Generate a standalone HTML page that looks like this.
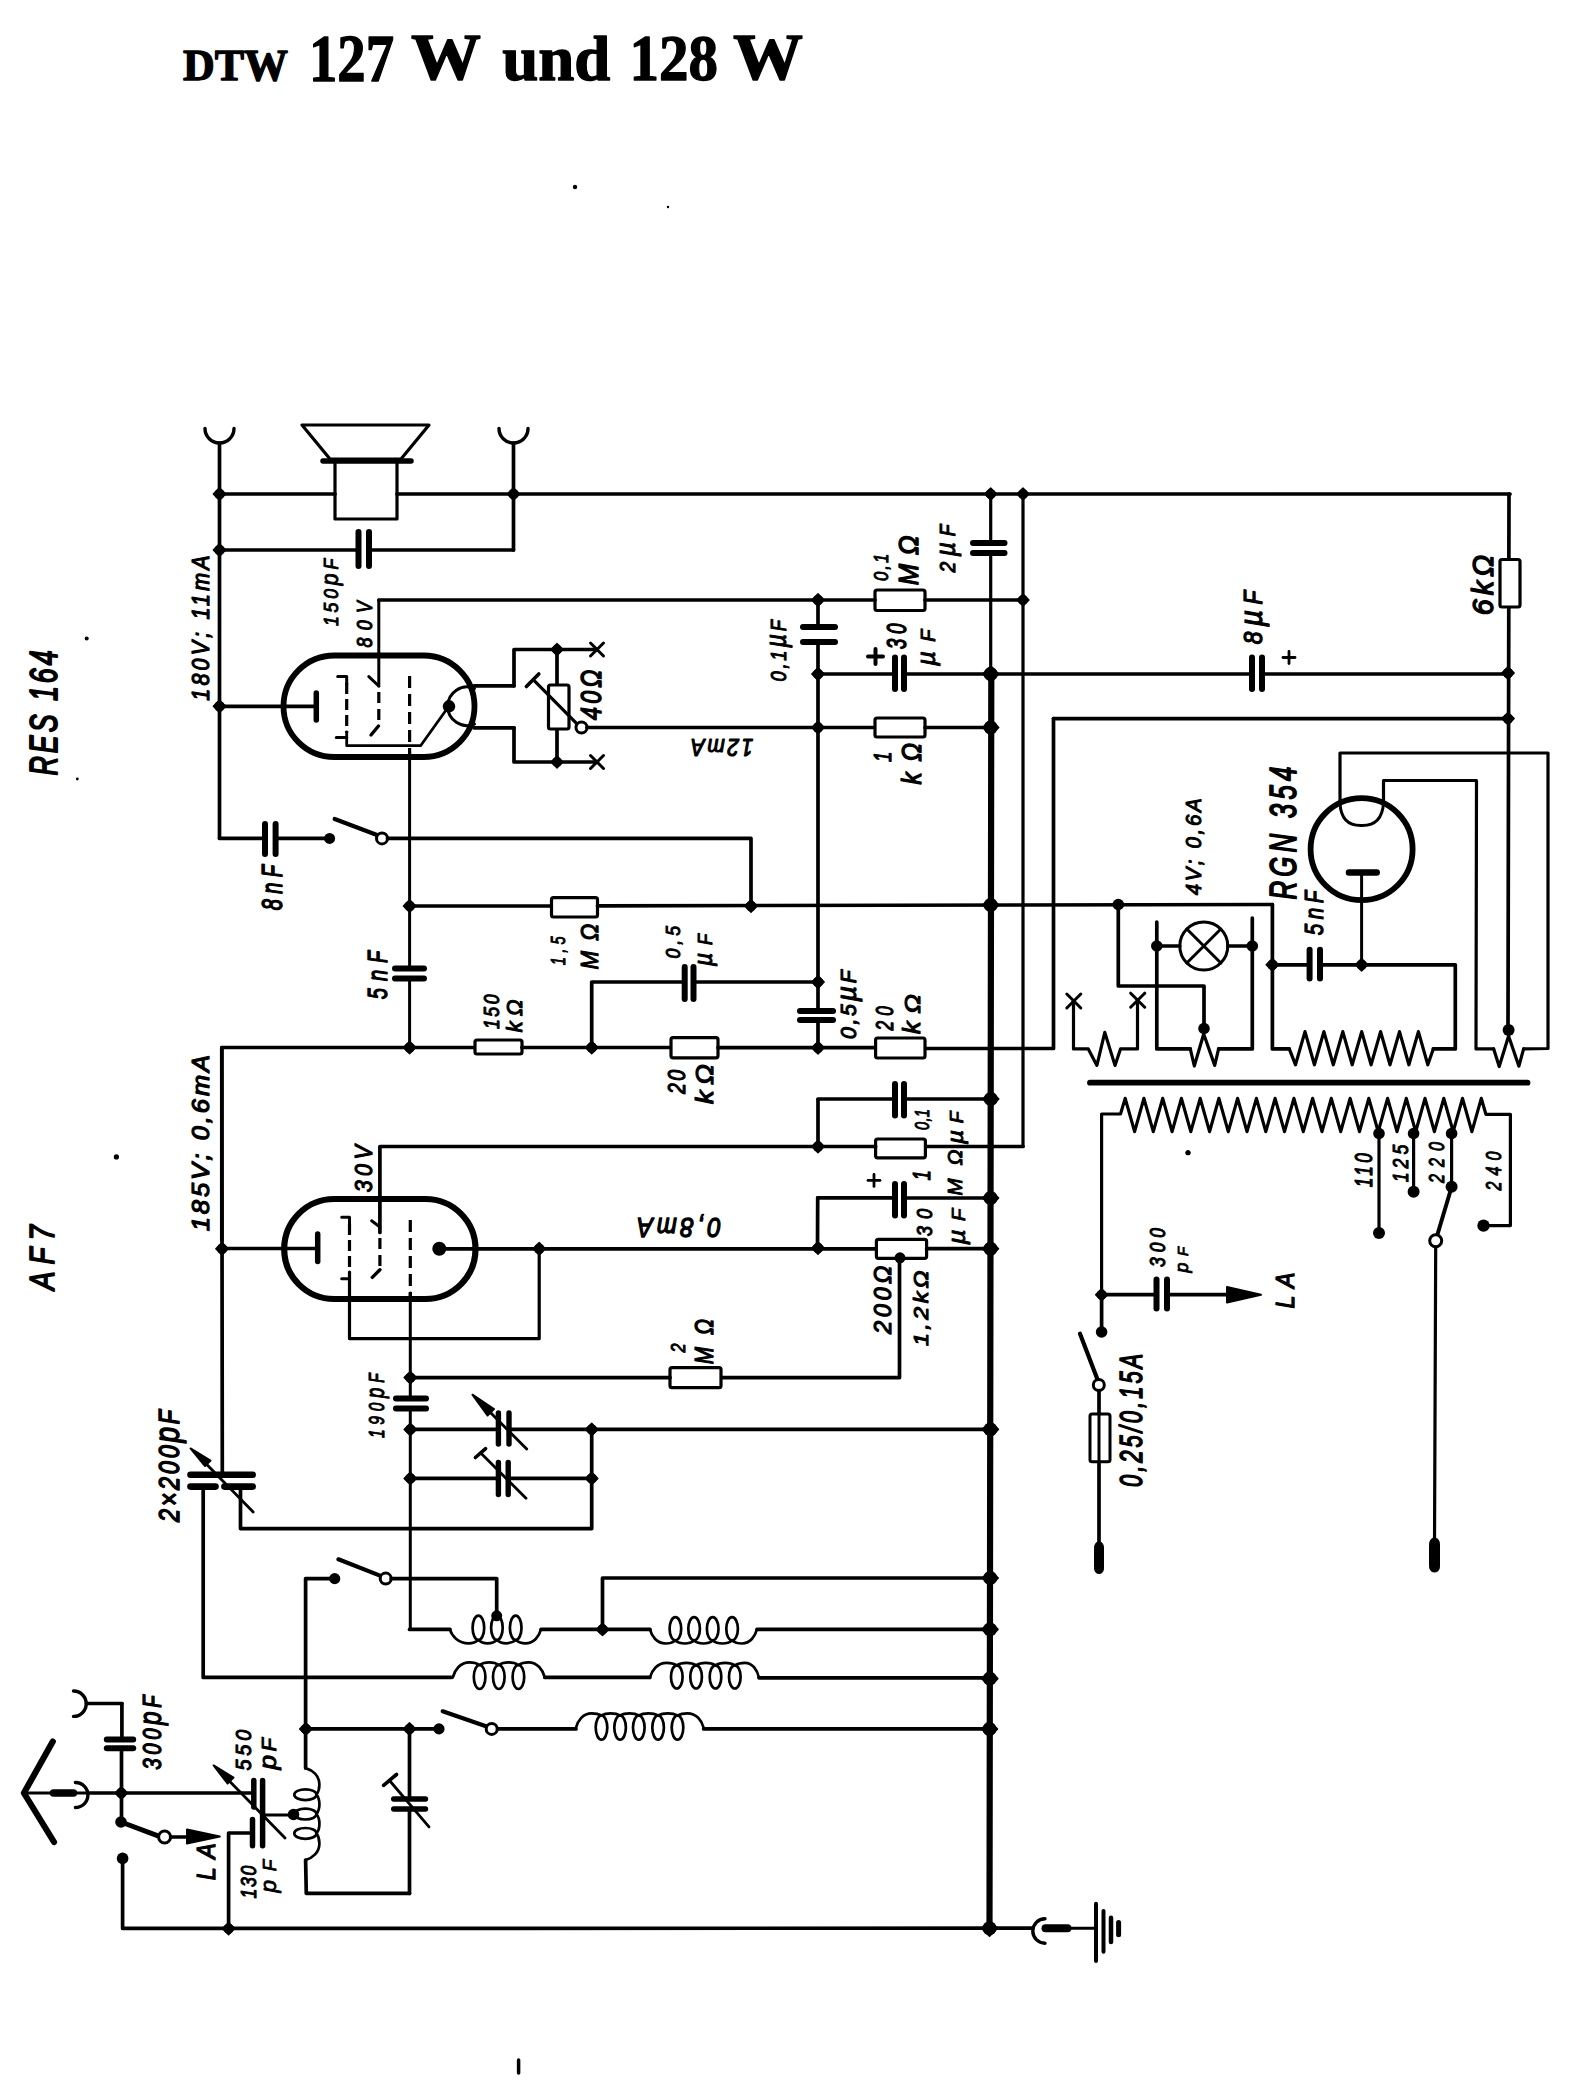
<!DOCTYPE html>
<html><head><meta charset="utf-8"><style>
html,body{margin:0;padding:0;background:#fff;overflow:hidden;width:1592px;height:2080px;}
svg{display:block;}
</style></head><body>
<svg width="1592" height="2080" viewBox="0 0 1592 2080" stroke="#000" stroke-linecap="round" stroke-linejoin="round" fill="none">
<rect x="0" y="0" width="1592" height="2080" fill="#fff" stroke="none"/>
<path d="M205,428.5 A14.5,14.5 0 0 0 234,428.5" stroke-width="3.4"/>
<path d="M499,428.5 A14.5,14.5 0 0 0 528,428.5" stroke-width="3.4"/>
<path d="M219.5,443 L219.5,838" stroke-width="3.7"/>
<path d="M513.5,443 L513.5,550" stroke-width="3.7"/>
<path d="M302,425 L429,425 L401,459 L330,459 Z" stroke-width="3.2"/>
<path d="M323,461 L411,461" stroke-width="5.5"/>
<path d="M335,461 L335,519 L397,519 L397,461" stroke-width="3.2"/>
<path d="M219.5,494 L335,494" stroke-width="3.7"/>
<path d="M397,494 L1510,494" stroke-width="3.7"/>
<path d="M213.3,494 L219.5,487.8 L225.7,494 L219.5,500.2 Z" fill="#000" stroke-width="1.4"/>
<circle cx="219.5" cy="494" r="5.2" fill="#000" stroke="none"/>
<path d="M507.3,494 L513.5,487.8 L519.7,494 L513.5,500.2 Z" fill="#000" stroke-width="1.4"/>
<circle cx="513.5" cy="494" r="5.2" fill="#000" stroke="none"/>
<path d="M984.7,494 L990.7,488 L996.7,494 L990.7,500 Z" fill="#000" stroke-width="1.4"/>
<circle cx="990.7" cy="494" r="5" fill="#000" stroke="none"/>
<path d="M1017,494 L1023,488 L1029,494 L1023,500 Z" fill="#000" stroke-width="1.4"/>
<circle cx="1023" cy="494" r="5" fill="#000" stroke="none"/>
<path d="M219.5,550 L358.5,550" stroke-width="3.7"/>
<path d="M369,550 L513.5,550" stroke-width="3.7"/>
<path d="M358.5,532 L358.5,566" stroke-width="6"/>
<path d="M369,532 L369,566" stroke-width="6"/>
<path d="M213.3,550 L219.5,543.8 L225.7,550 L219.5,556.2 Z" fill="#000" stroke-width="1.4"/>
<circle cx="219.5" cy="550" r="5.2" fill="#000" stroke="none"/>
<path d="M474.5,688.5 A19.3,19.3 0 1 0 474.5,724.1" stroke-width="3"/>
<path d="M213.3,706.3 L219.5,700.1 L225.7,706.3 L219.5,712.5 Z" fill="#000" stroke-width="1.4"/>
<circle cx="219.5" cy="706.3" r="5.2" fill="#000" stroke="none"/>
<rect x="283.5" y="655.5" width="191" height="101.5" rx="50.8" ry="50.8" fill="none" stroke-width="5.8"/>
<path d="M219.5,706.3 L316,706.3" stroke-width="3.7"/>
<path d="M316.3,693 L316.3,720" stroke-width="5.5"/>
<path d="M346.7,683 L346.7,733" stroke-width="3.2" stroke-linecap="butt" stroke-dasharray="11,5"/>
<path d="M337.7,676.6 L346.7,676.6 L346.7,684" stroke-width="3"/>
<path d="M336.3,737.4 L346.7,737.4" stroke-width="3"/>
<path d="M346.7,732 L346.7,745.7 L420.6,745.7 L449,706" stroke-width="2.8"/>
<circle cx="449" cy="706.3" r="6.2" fill="#000" stroke="none"/>
<path d="M378.8,600 L378.8,686" stroke-width="3"/>
<path d="M368.8,676.6 L378.8,686" stroke-width="3"/>
<path d="M378.8,692 L378.8,725" stroke-width="3.2" stroke-linecap="butt" stroke-dasharray="11,6"/>
<path d="M378.5,726 L371,735" stroke-width="3.4"/>
<path d="M409.6,676 L409.6,755" stroke-width="3.2" stroke-linecap="butt" stroke-dasharray="12,6"/>
<path d="M409.6,752 L409.6,968.6" stroke-width="3"/>
<path d="M409.6,978.6 L409.6,1047" stroke-width="3"/>
<path d="M378.8,600 L818,600" stroke-width="3.7"/>
<path d="M811.8,600 L818,593.8 L824.2,600 L818,606.2 Z" fill="#000" stroke-width="1.4"/>
<circle cx="818" cy="600" r="5.2" fill="#000" stroke="none"/>
<path d="M818,600 L818,627" stroke-width="3.7"/>
<path d="M818,642 L818,1011" stroke-width="3.7"/>
<path d="M818,1020 L818,1047.7" stroke-width="3.7"/>
<path d="M803,627 L835,627" stroke-width="6"/>
<path d="M803,642 L835,642" stroke-width="6"/>
<rect x="875" y="590" width="50" height="20.5" rx="2" fill="#fff" stroke-width="3.2"/>
<path d="M818,600 L875,600" stroke-width="3.7"/>
<path d="M925,600 L1023,600" stroke-width="3.7"/>
<path d="M1017,600 L1023,594 L1029,600 L1023,606 Z" fill="#000" stroke-width="1.4"/>
<circle cx="1023" cy="600" r="5" fill="#000" stroke="none"/>
<path d="M474,685.8 L514,685.8" stroke-width="3.7"/>
<path d="M474,727.8 L514,727.8" stroke-width="3.7"/>
<path d="M514,685.8 L514,649.5 L597,649.5" stroke-width="3.7"/>
<path d="M514,727.8 L514,762 L597,762" stroke-width="3.7"/>
<path d="M590.5,643 L603.5,656" stroke-width="3"/>
<path d="M590.5,656 L603.5,643" stroke-width="3"/>
<path d="M590.5,755.5 L603.5,768.5" stroke-width="3"/>
<path d="M590.5,768.5 L603.5,755.5" stroke-width="3"/>
<path d="M551,649.5 L557,643.5 L563,649.5 L557,655.5 Z" fill="#000" stroke-width="1.4"/>
<circle cx="557" cy="649.5" r="5" fill="#000" stroke="none"/>
<path d="M551,762 L557,756 L563,762 L557,768 Z" fill="#000" stroke-width="1.4"/>
<circle cx="557" cy="762" r="5" fill="#000" stroke="none"/>
<path d="M557,649.5 L557,762" stroke-width="3.7"/>
<rect x="548.5" y="685" width="20.5" height="44" rx="2" fill="#fff" stroke-width="3.2"/>
<path d="M534.7,681.2 L577,723.8" stroke-width="3.2"/>
<path d="M526.4,686.5 L538.8,674" stroke-width="3.6"/>
<circle cx="581.5" cy="727.5" r="5.5" fill="#fff" stroke-width="3"/>
<path d="M587,727.5 L875,727.5" stroke-width="3.7"/>
<rect x="875" y="718" width="50" height="19" rx="2" fill="#fff" stroke-width="3.2"/>
<path d="M925,727.5 L990.7,727.5" stroke-width="3.7"/>
<path d="M811.8,727.5 L818,721.3 L824.2,727.5 L818,733.7 Z" fill="#000" stroke-width="1.4"/>
<circle cx="818" cy="727.5" r="5.2" fill="#000" stroke="none"/>
<path d="M982.7,727.5 L990.7,719.5 L998.7,727.5 L990.7,735.5 Z" fill="#000" stroke-width="1.6"/>
<circle cx="990.7" cy="727.5" r="7" fill="#000" stroke="none"/>
<path d="M818,674 L895,674" stroke-width="3.7"/>
<path d="M895,657.5 L895,689" stroke-width="6"/>
<path d="M904,657.5 L904,689" stroke-width="6"/>
<path d="M904,674 L1252,674" stroke-width="3.7"/>
<path d="M1252,657.5 L1252,689" stroke-width="6"/>
<path d="M1262,657.5 L1262,689" stroke-width="6"/>
<path d="M1262,674 L1508,674" stroke-width="3.7"/>
<path d="M811.8,674 L818,667.8 L824.2,674 L818,680.2 Z" fill="#000" stroke-width="1.4"/>
<circle cx="818" cy="674" r="5.2" fill="#000" stroke="none"/>
<path d="M982.7,674 L990.7,666 L998.7,674 L990.7,682 Z" fill="#000" stroke-width="1.6"/>
<circle cx="990.7" cy="674" r="7" fill="#000" stroke="none"/>
<path d="M1501.8,673 L1508,666.8 L1514.2,673 L1508,679.2 Z" fill="#000" stroke-width="1.4"/>
<circle cx="1508" cy="673" r="5.2" fill="#000" stroke="none"/>
<path d="M868,656.4 L883,656.4" stroke-width="4"/>
<path d="M875.5,649 L875.5,664" stroke-width="4"/>
<path d="M1283,657.5 L1295,657.5" stroke-width="2.8"/>
<path d="M1289,651.5 L1289,663.5" stroke-width="2.8"/>
<path d="M990.7,494 L990.7,543" stroke-width="3.2"/>
<path d="M990.7,553 L990.7,674" stroke-width="3.2"/>
<path d="M973,543 L1004.5,543" stroke-width="6"/>
<path d="M973,553 L1004.5,553" stroke-width="6"/>
<path d="M991.3,674 L989.5,1928" stroke-width="6.2"/>
<path d="M1023,494 L1023,1146.5" stroke-width="3.2"/>
<path d="M1023,1146.5 L925.4,1146.5" stroke-width="3.7"/>
<path d="M1509,494 L1508,1029" stroke-width="3.7"/>
<rect x="1500" y="559.5" width="20" height="47.5" rx="2" fill="#fff" stroke-width="3.2"/>
<path d="M1053.5,718.6 L1508,718.6" stroke-width="3.7"/>
<path d="M1501.8,718.6 L1508,712.4 L1514.2,718.6 L1508,724.8 Z" fill="#000" stroke-width="1.4"/>
<circle cx="1508" cy="718.6" r="5.2" fill="#000" stroke="none"/>
<path d="M1053.5,718.6 L1053.5,1048.5 L925,1048.5" stroke-width="3.7"/>
<path d="M1340,803 L1340,753 L1548,753 L1548,1048.5 L1523.6,1048.9" stroke-width="3.2"/>
<path d="M1383.5,803 L1383.5,780.5 L1476.5,780.5 L1476,1048.9 L1493.7,1048.9" stroke-width="3.2"/>
<circle cx="1361.6" cy="849.2" r="51" fill="none" stroke-width="5.8"/>
<path d="M1340,803 Q1341,826 1361.6,825.5 Q1382,826 1383.5,803" stroke-width="3"/>
<path d="M1349,872.4 L1376.7,872.4" stroke-width="6.5"/>
<path d="M1361.6,872.4 L1361.6,964.8" stroke-width="3"/>
<path d="M1355.4,964.8 L1361.6,958.6 L1367.8,964.8 L1361.6,971 Z" fill="#000" stroke-width="1.4"/>
<circle cx="1361.6" cy="964.8" r="5.2" fill="#000" stroke="none"/>
<path d="M1272.4,964.8 L1309.6,964.8" stroke-width="3.7"/>
<path d="M1309.6,949.7 L1309.6,978.6" stroke-width="6"/>
<path d="M1320,949.7 L1320,978.6" stroke-width="6"/>
<path d="M1320,964.8 L1455.3,964.8 L1455.3,1048.9 L1433.3,1048.9" stroke-width="3.7"/>
<path d="M1266.2,964.8 L1272.4,958.6 L1278.6,964.8 L1272.4,971 Z" fill="#000" stroke-width="1.4"/>
<circle cx="1272.4" cy="964.8" r="5.2" fill="#000" stroke="none"/>
<path d="M1272.4,904.5 L1272.4,1048.9 L1289.3,1048.9" stroke-width="3.7"/>
<path d="M219.5,838.4 L265,838.4" stroke-width="3.7"/>
<path d="M265,824 L265,854" stroke-width="6"/>
<path d="M275.6,824 L275.6,854" stroke-width="6"/>
<path d="M275.6,838.4 L329.6,838.4" stroke-width="3.7"/>
<circle cx="329.6" cy="838.4" r="5.5" fill="#000" stroke="none"/>
<path d="M334.7,819 L377,835" stroke-width="4.2"/>
<circle cx="382" cy="838.4" r="5.5" fill="#fff" stroke-width="3"/>
<path d="M387.5,838.4 L751,838.4 L751,906" stroke-width="3.7"/>
<path d="M409.6,906 L551.5,906" stroke-width="3.7"/>
<rect x="551.5" y="897.7" width="46" height="19.3" rx="2" fill="#fff" stroke-width="3.2"/>
<path d="M597.5,905.8 L1272.4,904.5" stroke-width="3.7"/>
<path d="M403.4,906 L409.6,899.8 L415.8,906 L409.6,912.2 Z" fill="#000" stroke-width="1.4"/>
<circle cx="409.6" cy="906" r="5.2" fill="#000" stroke="none"/>
<path d="M744.8,906 L751,899.8 L757.2,906 L751,912.2 Z" fill="#000" stroke-width="1.4"/>
<circle cx="751" cy="906" r="5.2" fill="#000" stroke="none"/>
<path d="M982.7,905 L990.7,897 L998.7,905 L990.7,913 Z" fill="#000" stroke-width="1.6"/>
<circle cx="990.7" cy="905" r="7" fill="#000" stroke="none"/>
<circle cx="1118.3" cy="904.5" r="5.8" fill="#000" stroke="none"/>
<path d="M395,968.6 L424,968.6" stroke-width="6"/>
<path d="M395,978.6 L424,978.6" stroke-width="6"/>
<path d="M403.4,1047.5 L409.6,1041.3 L415.8,1047.5 L409.6,1053.7 Z" fill="#000" stroke-width="1.4"/>
<circle cx="409.6" cy="1047.5" r="5.2" fill="#000" stroke="none"/>
<path d="M221.8,1240 L221.8,1047.5 L475,1047.5" stroke-width="3.7"/>
<rect x="475" y="1040" width="47" height="14" rx="2" fill="#fff" stroke-width="3.2"/>
<path d="M522,1047.5 L671,1047.5" stroke-width="3.7"/>
<rect x="671" y="1037.7" width="47" height="20.1" rx="2" fill="#fff" stroke-width="3.2"/>
<path d="M718,1047.7 L875.6,1047.7" stroke-width="3.7"/>
<rect x="875.6" y="1038" width="49.4" height="20" rx="2" fill="#fff" stroke-width="3.2"/>
<path d="M585.5,1047.5 L591.7,1041.3 L597.9,1047.5 L591.7,1053.7 Z" fill="#000" stroke-width="1.4"/>
<circle cx="591.7" cy="1047.5" r="5.2" fill="#000" stroke="none"/>
<path d="M811.8,1047.7 L818,1041.5 L824.2,1047.7 L818,1053.9 Z" fill="#000" stroke-width="1.4"/>
<circle cx="818" cy="1047.7" r="5.2" fill="#000" stroke="none"/>
<path d="M591.7,1047.5 L591.7,982 L684.7,982" stroke-width="3.7"/>
<path d="M684.7,967 L684.7,999" stroke-width="6"/>
<path d="M693.5,967 L693.5,999" stroke-width="6"/>
<path d="M693.5,982 L818,982" stroke-width="3.7"/>
<path d="M811.8,982 L818,975.8 L824.2,982 L818,988.2 Z" fill="#000" stroke-width="1.4"/>
<circle cx="818" cy="982" r="5.2" fill="#000" stroke="none"/>
<path d="M800,1011 L833,1011" stroke-width="6"/>
<path d="M800,1020 L833,1020" stroke-width="6"/>
<path d="M1118.3,904.5 L1118.3,986 L1204,986 L1204,1028.5" stroke-width="3.7"/>
<path d="M1156.8,922 L1156.8,1048.9 L1190.3,1048.9" stroke-width="3.7"/>
<circle cx="1156.8" cy="946" r="5.8" fill="#000" stroke="none"/>
<path d="M1156.8,946 L1179.8,946" stroke-width="3.7"/>
<circle cx="1203.8" cy="946" r="24" fill="none" stroke-width="3"/>
<path d="M1186.8,929 L1220.8,963" stroke-width="3"/>
<path d="M1186.8,963 L1220.8,929" stroke-width="3"/>
<path d="M1227.8,946 L1252.3,946" stroke-width="3.7"/>
<circle cx="1252.3" cy="946" r="5.8" fill="#000" stroke="none"/>
<path d="M1252.3,918 L1252.3,1048.9 L1218.6,1048.9" stroke-width="3.7"/>
<circle cx="1204" cy="1028.5" r="5.8" fill="#000" stroke="none"/>
<path d="M1066.8,994 L1080.8,1008" stroke-width="3"/>
<path d="M1066.8,1008 L1080.8,994" stroke-width="3"/>
<path d="M1130.7,993.2 L1144.7,1007.2" stroke-width="3"/>
<path d="M1130.7,1007.2 L1144.7,993.2" stroke-width="3"/>
<path d="M1073.5,1001 L1073.5,1048.9 L1088.3,1048.9 L1096.9,1065.4 L1104.8,1032.4 L1115,1065.4 L1120.5,1048.9 L1137.5,1048.9 L1137.5,1000" stroke-width="3.2"/>
<path d="M1190.3,1048.9 L1194.3,1066 L1203.7,1034 L1214.7,1065.4 L1218.6,1048.9" stroke-width="3.2"/>
<path d="M1289.3,1048.9 L1295.5,1064.8 L1305,1031.6 L1314.4,1064.8 L1323.9,1031.6 L1333.3,1064.8 L1342.8,1031.6 L1352.2,1064.8 L1361.7,1031.6 L1371.1,1064.8 L1380.6,1031.6 L1390,1064.8 L1399.5,1031.6 L1408.9,1064.8 L1418.4,1031.6 L1427.8,1064.8 L1433.3,1048.9" stroke-width="3.2"/>
<path d="M1493.7,1048.9 L1499.2,1066.5 L1508.6,1036 L1518.9,1066.2 L1523.6,1048.9" stroke-width="3.2"/>
<circle cx="1508.6" cy="1030" r="6" fill="#000" stroke="none"/>
<path d="M1090,1082.7 L1527.5,1082.7" stroke-width="5.8"/>
<path d="M1101.6,1294.7 L1101.6,1114 L1120.5,1114 L1125.2,1098.4 L1134.6,1131.6 L1143.9,1098.4 L1153.3,1131.6 L1162.7,1098.4 L1172.1,1131.6 L1181.4,1098.4 L1190.8,1131.6 L1200.2,1098.4 L1209.6,1131.6 L1218.9,1098.4 L1228.3,1131.6 L1237.6,1098.4 L1247,1131.6 L1256.4,1098.4 L1265.8,1131.6 L1275.1,1098.4 L1284.5,1131.6 L1293.9,1098.4 L1303.3,1131.6 L1312.6,1098.4 L1322,1131.6 L1331.3,1098.4 L1340.7,1131.6 L1350.1,1098.4 L1359.5,1131.6 L1368.8,1098.4 L1378.2,1131.6 L1387.6,1098.4 L1397,1131.6 L1406.3,1098.4 L1415.7,1131.6 L1425,1098.4 L1434.4,1131.6 L1443.8,1098.4 L1453.2,1131.6 L1462.5,1098.4 L1471.9,1131.6 L1481.3,1098.4 L1485.9,1114.3 L1510.4,1114.3 L1510.4,1225.6 L1483.5,1225.6" stroke-width="3.2"/>
<circle cx="1483.5" cy="1225.6" r="6.2" fill="#000" stroke="none"/>
<circle cx="1379" cy="1133.5" r="5.8" fill="#000" stroke="none"/>
<path d="M1379,1133.5 L1379,1233" stroke-width="3.2"/>
<circle cx="1379" cy="1233" r="6" fill="#000" stroke="none"/>
<circle cx="1413.6" cy="1133.5" r="5.8" fill="#000" stroke="none"/>
<path d="M1413.6,1133.5 L1413.6,1191.7" stroke-width="3.2"/>
<circle cx="1413.6" cy="1191.7" r="6" fill="#000" stroke="none"/>
<circle cx="1451.6" cy="1133.5" r="5.8" fill="#000" stroke="none"/>
<path d="M1451.6,1133.5 L1451.6,1186.7" stroke-width="3.2"/>
<circle cx="1451.6" cy="1186.7" r="6" fill="#000" stroke="none"/>
<path d="M1451.6,1187 L1437,1236" stroke-width="4"/>
<circle cx="1435.7" cy="1240.7" r="6" fill="#fff" stroke-width="3"/>
<path d="M1435.7,1247 L1434.5,1545" stroke-width="3.2"/>
<path d="M1429.5,1545 Q1429.5,1538 1434.5,1538 Q1439.5,1538 1439.5,1545 L1439.5,1566 Q1439.5,1572 1434.5,1572 Q1429.5,1572 1429.5,1566 Z" stroke-width="1" fill="#000"/>
<circle cx="1188" cy="1152.8" r="2.5" fill="#000" stroke="none"/>
<path d="M1095.6,1294.7 L1101.6,1288.7 L1107.6,1294.7 L1101.6,1300.7 Z" fill="#000" stroke-width="1.4"/>
<circle cx="1101.6" cy="1294.7" r="5" fill="#000" stroke="none"/>
<path d="M1101.6,1294.7 L1156.5,1294.7" stroke-width="3.7"/>
<path d="M1156.5,1279.6 L1156.5,1308.5" stroke-width="6"/>
<path d="M1167,1279.6 L1167,1308.5" stroke-width="6"/>
<path d="M1167,1294.7 L1230,1294.7" stroke-width="3.7"/>
<path d="M1227,1287 L1261,1294.7 L1227,1302.5 Z" stroke-width="2" fill="#000"/>
<path d="M1101.6,1294.7 L1101.6,1332" stroke-width="3.7"/>
<circle cx="1101.6" cy="1332" r="5.8" fill="#000" stroke="none"/>
<path d="M1080,1333.7 L1097.5,1379.5" stroke-width="4.2"/>
<circle cx="1098.8" cy="1385" r="5.5" fill="#fff" stroke-width="3"/>
<path d="M1099,1390.5 L1099,1543" stroke-width="3.7"/>
<rect x="1090" y="1414" width="20" height="47.8" rx="2" fill="#fff" stroke-width="3"/>
<path d="M1099,1414 L1099,1462" stroke-width="3"/>
<path d="M1094.5,1548 Q1094.5,1542 1099,1542 Q1103.5,1542 1103.5,1548 L1103.5,1568 Q1103.5,1573.5 1099,1573.5 Q1094.5,1573.5 1094.5,1568 Z" stroke-width="1" fill="#000"/>
<path d="M221.8,1047.5 L222.3,1472" stroke-width="3.7"/>
<path d="M215.8,1248.7 L222,1242.5 L228.2,1248.7 L222,1254.9 Z" fill="#000" stroke-width="1.4"/>
<circle cx="222" cy="1248.7" r="5.2" fill="#000" stroke="none"/>
<rect x="284.2" y="1199" width="191.3" height="100" rx="50" ry="50" fill="none" stroke-width="6.2"/>
<path d="M222,1248.5 L317,1248.5" stroke-width="3.7"/>
<path d="M317.7,1234 L317.7,1261.5" stroke-width="5.5"/>
<path d="M349.5,1224 L349.5,1272" stroke-width="3.2" stroke-linecap="butt" stroke-dasharray="11,5"/>
<path d="M341.7,1217.3 L349.5,1217.3 L349.5,1224" stroke-width="3"/>
<path d="M341.7,1278.8 L349.5,1278.8" stroke-width="3"/>
<path d="M349.5,1272 L349.5,1338.7 L539.2,1338.7 L539.2,1248.7" stroke-width="3.2"/>
<path d="M379.9,1232.5 L379.9,1146.5 L818,1146.5" stroke-width="3.7"/>
<path d="M371.6,1220.8 L379.9,1227" stroke-width="3"/>
<path d="M379.9,1238 L379.9,1266" stroke-width="3.2" stroke-linecap="butt" stroke-dasharray="11,6"/>
<path d="M379.9,1269.8 L372.3,1277.4" stroke-width="3.4"/>
<path d="M410.3,1220 L410.3,1296" stroke-width="3.2" stroke-linecap="butt" stroke-dasharray="12,6"/>
<path d="M410.3,1293 L410.3,1398.5" stroke-width="3"/>
<path d="M396,1398.5 L426,1398.5" stroke-width="6"/>
<path d="M396,1408.5 L426,1408.5" stroke-width="6"/>
<path d="M410.3,1408.5 L410.3,1628.4" stroke-width="3"/>
<path d="M404.1,1377.6 L410.3,1371.4 L416.5,1377.6 L410.3,1383.8 Z" fill="#000" stroke-width="1.4"/>
<circle cx="410.3" cy="1377.6" r="5.2" fill="#000" stroke="none"/>
<path d="M404.1,1429.4 L410.3,1423.2 L416.5,1429.4 L410.3,1435.6 Z" fill="#000" stroke-width="1.4"/>
<circle cx="410.3" cy="1429.4" r="5.2" fill="#000" stroke="none"/>
<path d="M404.1,1478.4 L410.3,1472.2 L416.5,1478.4 L410.3,1484.6 Z" fill="#000" stroke-width="1.4"/>
<circle cx="410.3" cy="1478.4" r="5.2" fill="#000" stroke="none"/>
<circle cx="439.3" cy="1248.8" r="7" fill="#000" stroke="none"/>
<path d="M439.3,1248.8 L876.4,1248.8" stroke-width="3.7"/>
<path d="M533,1248.7 L539.2,1242.5 L545.4,1248.7 L539.2,1254.9 Z" fill="#000" stroke-width="1.4"/>
<circle cx="539.2" cy="1248.7" r="5.2" fill="#000" stroke="none"/>
<path d="M811.8,1248 L818,1241.8 L824.2,1248 L818,1254.2 Z" fill="#000" stroke-width="1.4"/>
<circle cx="818" cy="1248" r="5.2" fill="#000" stroke="none"/>
<rect x="876.4" y="1239.4" width="50.2" height="18.9" rx="2" fill="#fff" stroke-width="3.2"/>
<circle cx="900" cy="1257.8" r="5.5" fill="#000" stroke="none"/>
<path d="M926.6,1248.7 L991,1248.7" stroke-width="3.7"/>
<path d="M982.5,1248.7 L990.5,1240.7 L998.5,1248.7 L990.5,1256.7 Z" fill="#000" stroke-width="1.6"/>
<circle cx="990.5" cy="1248.7" r="7" fill="#000" stroke="none"/>
<path d="M899.5,1258 L899.5,1377.6 L721,1377.6" stroke-width="3.7"/>
<rect x="670" y="1367.6" width="51" height="20.1" rx="2" fill="#fff" stroke-width="3.2"/>
<path d="M670,1377.6 L410.3,1377.6" stroke-width="3.7"/>
<path d="M811.8,1146.5 L818,1140.3 L824.2,1146.5 L818,1152.7 Z" fill="#000" stroke-width="1.4"/>
<circle cx="818" cy="1146.5" r="5.2" fill="#000" stroke="none"/>
<rect x="875.6" y="1139" width="49.8" height="18.8" rx="2" fill="#fff" stroke-width="3.2"/>
<path d="M818,1146.5 L875.6,1146.5" stroke-width="3.7"/>
<path d="M818,1099.6 L818,1146.5" stroke-width="3.7"/>
<path d="M817.7,1197.8 L817.5,1248" stroke-width="3.7"/>
<path d="M818,1099 L895,1099" stroke-width="3.7"/>
<path d="M895,1084 L895,1115.6" stroke-width="6"/>
<path d="M904,1084 L904,1115.6" stroke-width="6"/>
<path d="M904,1099 L991,1099" stroke-width="3.7"/>
<path d="M982.8,1099 L990.8,1091 L998.8,1099 L990.8,1107 Z" fill="#000" stroke-width="1.6"/>
<circle cx="990.8" cy="1099" r="7" fill="#000" stroke="none"/>
<path d="M817.7,1197.8 L895,1197.8" stroke-width="3.7"/>
<path d="M895,1184 L895,1215.6" stroke-width="6"/>
<path d="M904,1184 L904,1215.6" stroke-width="6"/>
<path d="M904,1198 L991,1198" stroke-width="3.7"/>
<path d="M982.6,1198 L990.6,1190 L998.6,1198 L990.6,1206 Z" fill="#000" stroke-width="1.6"/>
<circle cx="990.6" cy="1198" r="7" fill="#000" stroke="none"/>
<path d="M868,1180.4 L880,1180.4" stroke-width="2.8"/>
<path d="M874,1174.4 L874,1186.4" stroke-width="2.8"/>
<path d="M410.3,1429.4 L498.4,1429.4" stroke-width="3.7"/>
<path d="M498.4,1413 L498.4,1444" stroke-width="5.4"/>
<path d="M509,1413 L509,1444" stroke-width="5.4"/>
<path d="M509,1429.4 L991,1429.4" stroke-width="3.7"/>
<path d="M480,1402 L526.7,1449" stroke-width="2.8"/>
<path d="M472.4,1394.7 L494,1409 L487.5,1415.5 Z" stroke-width="2" fill="#000"/>
<path d="M585.5,1429.4 L591.7,1423.2 L597.9,1429.4 L591.7,1435.6 Z" fill="#000" stroke-width="1.4"/>
<circle cx="591.7" cy="1429.4" r="5.2" fill="#000" stroke="none"/>
<path d="M982.4,1429.4 L990.4,1421.4 L998.4,1429.4 L990.4,1437.4 Z" fill="#000" stroke-width="1.6"/>
<circle cx="990.4" cy="1429.4" r="7" fill="#000" stroke="none"/>
<path d="M410.3,1478.4 L498.4,1478.4" stroke-width="3.7"/>
<path d="M498.4,1462.5 L498.4,1494.6" stroke-width="5.4"/>
<path d="M508.2,1462.5 L508.2,1494.6" stroke-width="5.4"/>
<path d="M508.2,1478.4 L591.7,1478.4" stroke-width="3.7"/>
<path d="M481,1453.3 L526,1498.3" stroke-width="2.8"/>
<path d="M475.4,1457.5 L485.6,1448.6" stroke-width="3.6"/>
<path d="M585.5,1478.4 L591.7,1472.2 L597.9,1478.4 L591.7,1484.6 Z" fill="#000" stroke-width="1.4"/>
<circle cx="591.7" cy="1478.4" r="5.2" fill="#000" stroke="none"/>
<path d="M591.7,1429.4 L591.7,1528.6 L240.5,1528.6 L240.5,1490" stroke-width="3.7"/>
<path d="M190.5,1474.8 L252.7,1474.8" stroke-width="6.6"/>
<path d="M190.5,1486.6 L215.5,1486.6" stroke-width="6.6"/>
<path d="M224.4,1486.6 L252.7,1486.6" stroke-width="6.6"/>
<path d="M197,1454.5 L253.2,1512" stroke-width="2.8"/>
<path d="M190.5,1448.4 L210.5,1460.5 L205,1466 Z" stroke-width="2" fill="#000"/>
<path d="M203.2,1490 L203.2,1677.4 L451.3,1677.4" stroke-width="3.7"/>
<path d="M449.8,1629.4 C452.1,1636.3 458.3,1643.3 468.7,1643.3 Q474.5,1643.3 478.4,1640 C483,1644.4 492.3,1644.4 496.9,1640 C501.6,1644.4 511,1644.4 515.7,1640 Q519.6,1643.3 525.4,1643.3 C534,1643.3 539.1,1636.3 541,1629.4" stroke-width="2.7"/>
<ellipse cx="478.4" cy="1627.8" rx="5.8" ry="12.2" fill="none" stroke-width="2.7"/>
<ellipse cx="496.9" cy="1627.8" rx="5.8" ry="12.2" fill="none" stroke-width="2.7"/>
<ellipse cx="515.7" cy="1627.8" rx="5.8" ry="12.2" fill="none" stroke-width="2.7"/>
<path d="M409.5,1629.4 L450,1629.4" stroke-width="3.7"/>
<path d="M649.8,1629.2 C651.7,1636.3 656.9,1643.5 665.6,1643.5 Q671.5,1643.5 675.4,1640.5 C680.1,1644.5 689.4,1644.5 694.1,1640.5 C698.8,1644.5 708.1,1644.5 712.7,1640.5 C717.6,1644.5 727.2,1644.5 732.1,1640.5 Q736,1643.5 741.9,1643.5 C750.2,1643.5 755.2,1636.3 757,1629.2" stroke-width="2.7"/>
<ellipse cx="675.4" cy="1628.8" rx="5.8" ry="11.6" fill="none" stroke-width="2.7"/>
<ellipse cx="694.1" cy="1628.8" rx="5.8" ry="11.6" fill="none" stroke-width="2.7"/>
<ellipse cx="712.7" cy="1628.8" rx="5.8" ry="11.6" fill="none" stroke-width="2.7"/>
<ellipse cx="732.1" cy="1628.8" rx="5.8" ry="11.6" fill="none" stroke-width="2.7"/>
<path d="M541,1629.4 L650,1629.4" stroke-width="3.7"/>
<path d="M757,1629.4 L991,1629.4" stroke-width="3.7"/>
<path d="M596.3,1629.4 L602.5,1623.2 L608.7,1629.4 L602.5,1635.6 Z" fill="#000" stroke-width="1.4"/>
<circle cx="602.5" cy="1629.4" r="5.2" fill="#000" stroke="none"/>
<path d="M602.5,1629.4 L602.5,1578 L991,1578" stroke-width="3.7"/>
<path d="M982.2,1578 L990.2,1570 L998.2,1578 L990.2,1586 Z" fill="#000" stroke-width="1.6"/>
<circle cx="990.2" cy="1578" r="7" fill="#000" stroke="none"/>
<path d="M982,1629.4 L990,1621.4 L998,1629.4 L990,1637.4 Z" fill="#000" stroke-width="1.6"/>
<circle cx="990" cy="1629.4" r="7" fill="#000" stroke="none"/>
<path d="M452.8,1677.4 C454.8,1669.8 460.3,1662.3 469.5,1662.3 Q475.6,1662.3 479.6,1665 C484.4,1661.4 494,1661.4 498.8,1665 C503.7,1661.4 513.5,1661.4 518.4,1665 Q522.4,1662.3 528.5,1662.3 C537.5,1662.3 542.8,1669.8 544.8,1677.4" stroke-width="2.7"/>
<ellipse cx="479.6" cy="1677" rx="5.8" ry="12" fill="none" stroke-width="2.7"/>
<ellipse cx="498.8" cy="1677" rx="5.8" ry="12" fill="none" stroke-width="2.7"/>
<ellipse cx="518.4" cy="1677" rx="5.8" ry="12" fill="none" stroke-width="2.7"/>
<path d="M544.8,1677.4 L649.8,1677.4" stroke-width="3.7"/>
<path d="M649.8,1677.8 C651.8,1670.3 657.4,1662.8 666.7,1662.8 Q672.8,1662.8 676.8,1665.3 C681.6,1662 691.3,1662 696.1,1665.3 C701,1662 710.6,1662 715.5,1665.3 C720.3,1662 730,1662 734.8,1665.3 Q738.8,1662.8 744.9,1662.8 C752.6,1662.8 757.3,1670.3 759,1677.8" stroke-width="2.7"/>
<ellipse cx="676.8" cy="1676.9" rx="5.8" ry="11.6" fill="none" stroke-width="2.7"/>
<ellipse cx="696.1" cy="1676.9" rx="5.8" ry="11.6" fill="none" stroke-width="2.7"/>
<ellipse cx="715.5" cy="1676.9" rx="5.8" ry="11.6" fill="none" stroke-width="2.7"/>
<ellipse cx="734.8" cy="1676.9" rx="5.8" ry="11.6" fill="none" stroke-width="2.7"/>
<path d="M759,1677.8 L990,1677.8" stroke-width="3.7"/>
<path d="M981.8,1678.6 L989.8,1670.6 L997.8,1678.6 L989.8,1686.6 Z" fill="#000" stroke-width="1.6"/>
<circle cx="989.8" cy="1678.6" r="7" fill="#000" stroke="none"/>
<path d="M575.9,1727.8 C577.8,1720.5 583,1713.3 591.6,1713.3 Q597.5,1713.3 601.5,1715.5 C606.1,1712.6 615.5,1712.6 620.1,1715.5 C624.8,1712.6 634.1,1712.6 638.8,1715.5 C643.6,1712.6 653.3,1712.6 658.1,1715.5 C663,1712.6 672.6,1712.6 677.5,1715.5 Q681.5,1713.3 687.4,1713.3 C696.4,1713.3 701.7,1720.5 703.7,1727.8" stroke-width="2.7"/>
<ellipse cx="601.5" cy="1727.6" rx="5.8" ry="12.1" fill="none" stroke-width="2.7"/>
<ellipse cx="620.1" cy="1727.6" rx="5.8" ry="12.1" fill="none" stroke-width="2.7"/>
<ellipse cx="638.8" cy="1727.6" rx="5.8" ry="12.1" fill="none" stroke-width="2.7"/>
<ellipse cx="658.1" cy="1727.6" rx="5.8" ry="12.1" fill="none" stroke-width="2.7"/>
<ellipse cx="677.5" cy="1727.6" rx="5.8" ry="12.1" fill="none" stroke-width="2.7"/>
<path d="M492,1728.9 L576,1728.9" stroke-width="3.7"/>
<path d="M703.7,1728.9 L990,1728.9" stroke-width="3.7"/>
<path d="M981.5,1729 L989.5,1721 L997.5,1729 L989.5,1737 Z" fill="#000" stroke-width="1.6"/>
<circle cx="989.5" cy="1729" r="7" fill="#000" stroke="none"/>
<path d="M305.6,1768.1 L305.6,1578.6 L334.7,1578.6" stroke-width="3.7"/>
<circle cx="334.7" cy="1578.6" r="5.6" fill="#000" stroke="none"/>
<path d="M338.4,1559.3 L380,1575.6" stroke-width="4.2"/>
<circle cx="385.7" cy="1578.6" r="5.5" fill="#fff" stroke-width="3"/>
<path d="M391.2,1578.6 L496.7,1578.6 L496.7,1615.8" stroke-width="3.7"/>
<circle cx="496.7" cy="1615.8" r="5.5" fill="#000" stroke="none"/>
<path d="M299.6,1728.9 L305.8,1722.7 L312,1728.9 L305.8,1735.1 Z" fill="#000" stroke-width="1.4"/>
<circle cx="305.8" cy="1728.9" r="5.2" fill="#000" stroke="none"/>
<path d="M305.8,1728.9 L439,1728.9" stroke-width="3.7"/>
<path d="M403.3,1728.9 L409.5,1722.7 L415.7,1728.9 L409.5,1735.1 Z" fill="#000" stroke-width="1.4"/>
<circle cx="409.5" cy="1728.9" r="5.2" fill="#000" stroke="none"/>
<circle cx="439" cy="1728.9" r="5.6" fill="#000" stroke="none"/>
<path d="M442.7,1711.3 L486.7,1726.4" stroke-width="4.2"/>
<circle cx="491.7" cy="1728.9" r="5.5" fill="#fff" stroke-width="3"/>
<path d="M409.5,1728.9 L409.5,1799" stroke-width="3.7"/>
<path d="M393.7,1799 L425.5,1799" stroke-width="5.4"/>
<path d="M393.7,1809 L425.5,1809" stroke-width="5.4"/>
<path d="M409.5,1809 L409.5,1893.4" stroke-width="3.7"/>
<path d="M305.6,1860 L306.3,1893.4 L409.5,1893.4" stroke-width="3.7"/>
<path d="M389.5,1780.5 L429,1826.9" stroke-width="2.8"/>
<path d="M383.6,1785.3 L396.5,1774.5" stroke-width="3.6"/>
<path d="M305.6,1768.1 C312.5,1770.1 319.4,1775.5 319.4,1784.6 Q319.4,1790.7 316.5,1794.7 C320.4,1799.5 320.4,1809.2 316.5,1814.1 C320.4,1818.9 320.4,1828.6 316.5,1833.4 Q319.4,1837.4 319.4,1843.5 C319.4,1852.6 312.5,1858 305.6,1860" stroke-width="2.7"/>
<ellipse cx="305.4" cy="1794.7" rx="11.1" ry="5.4" fill="none" stroke-width="2.7"/>
<ellipse cx="305.4" cy="1814.1" rx="11.1" ry="5.4" fill="none" stroke-width="2.7"/>
<ellipse cx="305.4" cy="1833.4" rx="11.1" ry="5.4" fill="none" stroke-width="2.7"/>
<path d="M52.8,1741.6 L23.9,1793 L54,1842" stroke-width="6.2"/>
<path d="M24,1793 L88,1793" stroke-width="3"/>
<path d="M53.5,1793 L73.5,1793" stroke-width="7.5"/>
<path d="M75.4,1782.5 A12.5,12.5 0 0 1 75.4,1807.5" stroke-width="3.4"/>
<path d="M73.5,1691 A12.7,12.7 0 0 1 73.5,1716.4" stroke-width="3.4"/>
<path d="M86.5,1703.5 L121.9,1703.5" stroke-width="3.7"/>
<path d="M121.9,1703.5 L121.9,1739.5" stroke-width="3.7"/>
<path d="M106.8,1739.5 L133.2,1739.5" stroke-width="6"/>
<path d="M106.8,1748.3 L133.2,1748.3" stroke-width="6"/>
<path d="M121.5,1748.3 L121.5,1822" stroke-width="3.7"/>
<path d="M88,1793 L253.8,1793" stroke-width="3.7"/>
<path d="M115.1,1793 L121.3,1786.8 L127.5,1793 L121.3,1799.2 Z" fill="#000" stroke-width="1.4"/>
<circle cx="121.3" cy="1793" r="5.2" fill="#000" stroke="none"/>
<circle cx="121" cy="1822" r="5.8" fill="#000" stroke="none"/>
<path d="M121,1822 L158,1835.8" stroke-width="5"/>
<circle cx="164.6" cy="1837" r="6" fill="#fff" stroke-width="3"/>
<path d="M170.6,1837 L190,1837" stroke-width="3.7"/>
<path d="M187,1829.5 L219.8,1836.5 L187,1843.5 Z" stroke-width="2" fill="#000"/>
<circle cx="122.6" cy="1858.4" r="5.8" fill="#000" stroke="none"/>
<path d="M122.6,1858.4 L122.6,1928.4 L1032,1928.2" stroke-width="3.7"/>
<path d="M222.4,1928.6 L228.6,1922.4 L234.8,1928.6 L228.6,1934.8 Z" fill="#000" stroke-width="1.4"/>
<circle cx="228.6" cy="1928.6" r="5.2" fill="#000" stroke="none"/>
<path d="M228.6,1928.6 L228.6,1833 L252.5,1833" stroke-width="3.7"/>
<path d="M253.8,1780.5 L253.8,1807" stroke-width="5.5"/>
<path d="M262.6,1780.5 L262.6,1845.8" stroke-width="5.5"/>
<path d="M252.5,1819.4 L252.5,1845.8" stroke-width="5.5"/>
<path d="M262.6,1815 L293,1815" stroke-width="3"/>
<circle cx="293.5" cy="1814.5" r="5.8" fill="#000" stroke="none"/>
<path d="M221,1772.5 L285,1838" stroke-width="2.8"/>
<path d="M213.6,1765.4 L233.5,1777.5 L227.5,1783.5 Z" stroke-width="2" fill="#000"/>
<path d="M981.5,1928.2 L989.5,1920.2 L997.5,1928.2 L989.5,1936.2 Z" fill="#000" stroke-width="1.6"/>
<circle cx="989.5" cy="1928.2" r="7" fill="#000" stroke="none"/>
<path d="M1045,1918.8 A12.2,12.2 0 0 0 1045,1943.2" stroke-width="3.4"/>
<path d="M1045.5,1928.2 L1067.5,1928.2" stroke-width="8"/>
<path d="M1067,1928.2 L1096,1928.2" stroke-width="3"/>
<path d="M1096,1903.7 L1096,1961" stroke-width="4"/>
<path d="M1103.5,1911 L1103.5,1951.8" stroke-width="4"/>
<path d="M1111,1917.8 L1111,1942" stroke-width="4.5"/>
<path d="M1118.6,1922.5 L1118.6,1934.8" stroke-width="5"/>
<circle cx="116.4" cy="1156.9" r="2.6" fill="#000" stroke="none"/>
<circle cx="86.7" cy="638.4" r="2" fill="#000" stroke="none"/>
<circle cx="77.3" cy="779" r="1.4" fill="#000" stroke="none"/>
<circle cx="575" cy="187" r="2.2" fill="#000" stroke="none"/>
<circle cx="668" cy="207" r="1.2" fill="#000" stroke="none"/>
<circle cx="1188" cy="1152.8" r="2.5" fill="#000" stroke="none"/>
<path d="M518.6,2060 L518.6,2073" stroke-width="3.5"/>
<g fill="#000" stroke="#000">
<text id="L0" transform="translate(57,775.5) rotate(-90) scale(0.7,1)" font-size="38.3" font-style="italic" font-family="Liberation Sans, sans-serif" textLength="178.7" lengthAdjust="spacing" stroke-width="1.9">RES 164</text>
<text id="L1" transform="translate(54.4,1290) rotate(-90) scale(0.8,1)" font-size="34.8" font-style="italic" font-family="Liberation Sans, sans-serif" textLength="81.3" lengthAdjust="spacing" stroke-width="1.7">AF7</text>
<text id="L2" transform="translate(208.9,700.8) rotate(-90) scale(0.9,1)" font-size="23.8" font-style="italic" font-family="Liberation Sans, sans-serif" textLength="161.6" lengthAdjust="spacing" stroke-width="1.2">180V; 11mA</text>
<text id="L3" transform="translate(337.7,626) rotate(-90) scale(0.9,1)" font-size="19.6" font-style="italic" font-family="Liberation Sans, sans-serif" textLength="74.7" lengthAdjust="spacing" stroke-width="1">150<tspan font-size="120%">p</tspan>F</text>
<text id="L4" transform="translate(371.6,647.5) rotate(-90) scale(0.8,1)" font-size="22.2" font-style="italic" font-family="Liberation Sans, sans-serif" textLength="57.9" lengthAdjust="spacing" stroke-width="1.1">80V</text>
<text id="L5" transform="translate(601.2,720) rotate(-90) scale(0.8,1)" font-size="29.1" font-style="italic" font-family="Liberation Sans, sans-serif" textLength="62.9" lengthAdjust="spacing" stroke-width="1.5">40Ω</text>
<text id="L6" transform="translate(753.2,739) rotate(180) scale(0.9,1)" font-size="23.3" font-style="italic" font-family="Liberation Sans, sans-serif" textLength="69.4" lengthAdjust="spacing" stroke-width="1.2">12mA</text>
<text id="L7" transform="translate(785.7,681.6) rotate(-90) scale(0.8,1)" font-size="22.9" font-style="italic" font-family="Liberation Sans, sans-serif" textLength="76.9" lengthAdjust="spacing" stroke-width="1.1">0,1<tspan font-size="128%">µ</tspan>F</text>
<text id="L8" transform="translate(888,581) rotate(-90) scale(0.8,1)" font-size="20.9" font-style="italic" font-family="Liberation Sans, sans-serif" textLength="34" lengthAdjust="spacing" stroke-width="1">0,1</text>
<text id="L9" transform="translate(918,585.3) rotate(-90) scale(0.9,1)" font-size="28.4" font-style="italic" font-family="Liberation Sans, sans-serif" textLength="55.2" lengthAdjust="spacing" stroke-width="1.4">MΩ</text>
<text id="L10" transform="translate(955.1,572.6) rotate(-90) scale(0.9,1)" font-size="21.3" font-style="italic" font-family="Liberation Sans, sans-serif" textLength="53.3" lengthAdjust="spacing" stroke-width="1.1">2<tspan font-size="128%">µ</tspan>F</text>
<text id="L11" transform="translate(905.7,649.3) rotate(-90) scale(0.7,1)" font-size="27.1" font-style="italic" font-family="Liberation Sans, sans-serif" textLength="37" lengthAdjust="spacing" stroke-width="1.4">30</text>
<text id="L12" transform="translate(934.8,665.7) rotate(-90) scale(1,1)" font-size="19.9" font-style="italic" font-family="Liberation Sans, sans-serif" textLength="36" lengthAdjust="spacing" stroke-width="1"><tspan font-size="128%">µ</tspan>F</text>
<text id="L13" transform="translate(891.3,762) rotate(-90) scale(0.8,1)" font-size="23.1" font-style="italic" font-family="Liberation Sans, sans-serif" stroke-width="1.2">1</text>
<text id="L14" transform="translate(920.6,784.6) rotate(-90) scale(0.9,1)" font-size="26.9" font-style="italic" font-family="Liberation Sans, sans-serif" textLength="46.2" lengthAdjust="spacing" stroke-width="1.3">kΩ</text>
<text id="L15" transform="translate(1262.1,644.3) rotate(-90) scale(0.9,1)" font-size="25.1" font-style="italic" font-family="Liberation Sans, sans-serif" textLength="59.6" lengthAdjust="spacing" stroke-width="1.3">8<tspan font-size="128%">µ</tspan>F</text>
<text id="L16" transform="translate(1492.5,615.2) rotate(-90) scale(1,1)" font-size="28.7" font-style="italic" font-family="Liberation Sans, sans-serif" textLength="60.3" lengthAdjust="spacing" stroke-width="1.4">6kΩ</text>
<text id="L17" transform="translate(282.1,910.2) rotate(-90) scale(0.7,1)" font-size="28.7" font-style="italic" font-family="Liberation Sans, sans-serif" textLength="64.6" lengthAdjust="spacing" stroke-width="1.4">8nF</text>
<text id="L18" transform="translate(386.7,999.3) rotate(-90) scale(0.7,1)" font-size="28.5" font-style="italic" font-family="Liberation Sans, sans-serif" textLength="69.4" lengthAdjust="spacing" stroke-width="1.4">5nF</text>
<text id="L19" transform="translate(499.4,1029) rotate(-90) scale(0.8,1)" font-size="22" font-style="italic" font-family="Liberation Sans, sans-serif" textLength="43.1" lengthAdjust="spacing" stroke-width="1.1">150</text>
<text id="L20" transform="translate(522.1,1032.3) rotate(-90) scale(1,1)" font-size="21.6" font-style="italic" font-family="Liberation Sans, sans-serif" textLength="32.7" lengthAdjust="spacing" stroke-width="1.1">kΩ</text>
<text id="L21" transform="translate(209.1,1231.3) rotate(-90) scale(1.1,1)" font-size="23.1" font-style="italic" font-family="Liberation Sans, sans-serif" textLength="160.3" lengthAdjust="spacing" stroke-width="1.2">185V; 0,6mA</text>
<text id="L22" transform="translate(565.4,965.2) rotate(-90) scale(0.7,1)" font-size="20.9" font-style="italic" font-family="Liberation Sans, sans-serif" textLength="41.1" lengthAdjust="spacing" stroke-width="1">1,5</text>
<text id="L23" transform="translate(598.1,969.4) rotate(-90) scale(0.9,1)" font-size="24.8" font-style="italic" font-family="Liberation Sans, sans-serif" textLength="50.6" lengthAdjust="spacing" stroke-width="1.2">MΩ</text>
<text id="L24" transform="translate(680,958.5) rotate(-90) scale(0.9,1)" font-size="19.7" font-style="italic" font-family="Liberation Sans, sans-serif" textLength="36.2" lengthAdjust="spacing" stroke-width="1">0,5</text>
<text id="L25" transform="translate(711.9,966) rotate(-90) scale(0.9,1)" font-size="20" font-style="italic" font-family="Liberation Sans, sans-serif" textLength="35.5" lengthAdjust="spacing" stroke-width="1"><tspan font-size="128%">µ</tspan>F</text>
<text id="L26" transform="translate(856.1,1039) rotate(-90) scale(1,1)" font-size="21.2" font-style="italic" font-family="Liberation Sans, sans-serif" textLength="68.7" lengthAdjust="spacing" stroke-width="1.1">0,5<tspan font-size="128%">µ</tspan>F</text>
<text id="L27" transform="translate(685.1,1094) rotate(-90) scale(0.8,1)" font-size="24.5" font-style="italic" font-family="Liberation Sans, sans-serif" textLength="30.1" lengthAdjust="spacing" stroke-width="1.2">20</text>
<text id="L28" transform="translate(712.6,1104) rotate(-90) scale(1.1,1)" font-size="24.5" font-style="italic" font-family="Liberation Sans, sans-serif" textLength="36.2" lengthAdjust="spacing" stroke-width="1.2">kΩ</text>
<text id="L29" transform="translate(893.1,1030.6) rotate(-90) scale(0.7,1)" font-size="24.5" font-style="italic" font-family="Liberation Sans, sans-serif" textLength="34.8" lengthAdjust="spacing" stroke-width="1.2">20</text>
<text id="L30" transform="translate(919.7,1034) rotate(-90) scale(1.1,1)" font-size="23" font-style="italic" font-family="Liberation Sans, sans-serif" textLength="36.2" lengthAdjust="spacing" stroke-width="1.1">kΩ</text>
<text id="L31" transform="translate(1201.3,895.3) rotate(-90) scale(0.9,1)" font-size="22.8" font-style="italic" font-family="Liberation Sans, sans-serif" textLength="107.8" lengthAdjust="spacing" stroke-width="1.1">4V; 0,6A</text>
<text id="L32" transform="translate(929.4,1130) rotate(-90) scale(0.7,1)" font-size="20.9" font-style="italic" font-family="Liberation Sans, sans-serif" textLength="30" lengthAdjust="spacing" stroke-width="1">0,1</text>
<text id="L33" transform="translate(962.9,1144) rotate(-90) scale(1.1,1)" font-size="17.5" font-style="italic" font-family="Liberation Sans, sans-serif" textLength="29.5" lengthAdjust="spacing" stroke-width="0.9"><tspan font-size="128%">µ</tspan>F</text>
<text id="L34" transform="translate(930.3,1180.6) rotate(-90) scale(0.8,1)" font-size="23.1" font-style="italic" font-family="Liberation Sans, sans-serif" stroke-width="1.2">1</text>
<text id="L35" transform="translate(962.1,1195.5) rotate(-90) scale(1,1)" font-size="20.5" font-style="italic" font-family="Liberation Sans, sans-serif" textLength="45.9" lengthAdjust="spacing" stroke-width="1">MΩ</text>
<text id="L36" transform="translate(932.1,1236.3) rotate(-90) scale(0.8,1)" font-size="22.9" font-style="italic" font-family="Liberation Sans, sans-serif" textLength="34.4" lengthAdjust="spacing" stroke-width="1.1">30</text>
<text id="L37" transform="translate(964.7,1244.5) rotate(-90) scale(1.1,1)" font-size="18.8" font-style="italic" font-family="Liberation Sans, sans-serif" textLength="32.7" lengthAdjust="spacing" stroke-width="0.9"><tspan font-size="128%">µ</tspan>F</text>
<text id="L38" transform="translate(1296.3,899.5) rotate(-90) scale(0.7,1)" font-size="36.8" font-style="italic" font-family="Liberation Sans, sans-serif" textLength="189.8" lengthAdjust="spacing" stroke-width="1.8">RGN 354</text>
<text id="L39" transform="translate(1323.1,935.3) rotate(-90) scale(0.8,1)" font-size="25.8" font-style="italic" font-family="Liberation Sans, sans-serif" textLength="55.8" lengthAdjust="spacing" stroke-width="1.3">5nF</text>
<text id="L40" transform="translate(371.8,1192.3) rotate(-90) scale(0.9,1)" font-size="23.8" font-style="italic" font-family="Liberation Sans, sans-serif" textLength="52.3" lengthAdjust="spacing" stroke-width="1.2">30V</text>
<text id="L41" transform="translate(383.5,1438) rotate(-90) scale(0.7,1)" font-size="22.1" font-style="italic" font-family="Liberation Sans, sans-serif" textLength="92.4" lengthAdjust="spacing" stroke-width="1.1">190<tspan font-size="120%">p</tspan>F</text>
<text id="L42" transform="translate(179.3,1522.1) rotate(-90) scale(0.8,1)" font-size="29.2" font-style="italic" font-family="Liberation Sans, sans-serif" textLength="140.2" lengthAdjust="spacing" stroke-width="1.5">2×200<tspan font-size="120%">p</tspan>F</text>
<text id="L43" transform="translate(721,1218.1) rotate(180) scale(0.9,1)" font-size="26.8" font-style="italic" font-family="Liberation Sans, sans-serif" textLength="93.5" lengthAdjust="spacing" stroke-width="1.3">0,8mA</text>
<text id="L44" transform="translate(685.1,1352.5) rotate(-90) scale(0.8,1)" font-size="20.4" font-style="italic" font-family="Liberation Sans, sans-serif" stroke-width="1">2</text>
<text id="L45" transform="translate(712.5,1364.2) rotate(-90) scale(0.8,1)" font-size="25.8" font-style="italic" font-family="Liberation Sans, sans-serif" textLength="56.4" lengthAdjust="spacing" stroke-width="1.3">MΩ</text>
<text id="L46" transform="translate(890.6,1334) rotate(-90) scale(1,1)" font-size="23.7" font-style="italic" font-family="Liberation Sans, sans-serif" textLength="68.3" lengthAdjust="spacing" stroke-width="1.2">200Ω</text>
<text id="L47" transform="translate(928,1346) rotate(-90) scale(1.1,1)" font-size="21.1" font-style="italic" font-family="Liberation Sans, sans-serif" textLength="68.5" lengthAdjust="spacing" stroke-width="1.1">1,2kΩ</text>
<text id="L48" transform="translate(1165.3,1267) rotate(-90) scale(0.8,1)" font-size="21.7" font-style="italic" font-family="Liberation Sans, sans-serif" textLength="48.8" lengthAdjust="spacing" stroke-width="1.1">300</text>
<text id="L49" transform="translate(1188.1,1272.6) rotate(-90) scale(1,1)" font-size="14.9" font-style="italic" font-family="Liberation Sans, sans-serif" textLength="25.6" lengthAdjust="spacing" stroke-width="0.9"><tspan font-size="120%">p</tspan>F</text>
<text id="L50" transform="translate(1141.8,1487) rotate(-90) scale(0.7,1)" font-size="31.4" font-style="italic" font-family="Liberation Sans, sans-serif" textLength="190.4" lengthAdjust="spacing" stroke-width="1.6">0,25/0,15A</text>
<text id="L51" transform="translate(1372.1,1187.3) rotate(-90) scale(0.7,1)" font-size="24.6" font-style="italic" font-family="Liberation Sans, sans-serif" textLength="48.7" lengthAdjust="spacing" stroke-width="1.2">110</text>
<text id="L52" transform="translate(1407.9,1182.3) rotate(-90) scale(0.8,1)" font-size="22.2" font-style="italic" font-family="Liberation Sans, sans-serif" textLength="47" lengthAdjust="spacing" stroke-width="1.1">125</text>
<text id="L53" transform="translate(1444.3,1183) rotate(-90) scale(0.7,1)" font-size="22.9" font-style="italic" font-family="Liberation Sans, sans-serif" textLength="58.3" lengthAdjust="spacing" stroke-width="1.1">220</text>
<text id="L54" transform="translate(1500.8,1190.5) rotate(-90) scale(0.7,1)" font-size="22.9" font-style="italic" font-family="Liberation Sans, sans-serif" textLength="55.7" lengthAdjust="spacing" stroke-width="1.1">240</text>
<text id="L55" transform="translate(1294.1,1308.5) rotate(-90) scale(0.9,1)" font-size="25.9" font-style="italic" font-family="Liberation Sans, sans-serif" textLength="40" lengthAdjust="spacing" stroke-width="1.3">LA</text>
<text id="L56" transform="translate(160.8,1769.8) rotate(-90) scale(0.8,1)" font-size="25.4" font-style="italic" font-family="Liberation Sans, sans-serif" textLength="93.2" lengthAdjust="spacing" stroke-width="1.3">300<tspan font-size="120%">p</tspan>F</text>
<text id="L57" transform="translate(251.4,1770.5) rotate(-90) scale(0.9,1)" font-size="22" font-style="italic" font-family="Liberation Sans, sans-serif" textLength="45.3" lengthAdjust="spacing" stroke-width="1.1">550</text>
<text id="L58" transform="translate(276.2,1769.5) rotate(-90) scale(1.1,1)" font-size="19.9" font-style="italic" font-family="Liberation Sans, sans-serif" textLength="28.6" lengthAdjust="spacing" stroke-width="1"><tspan font-size="120%">p</tspan>F</text>
<text id="L59" transform="translate(215.1,1880.3) rotate(-90) scale(0.9,1)" font-size="25.9" font-style="italic" font-family="Liberation Sans, sans-serif" textLength="41.1" lengthAdjust="spacing" stroke-width="1.3">LA</text>
<text id="L60" transform="translate(256.4,1898.4) rotate(-90) scale(0.8,1)" font-size="22" font-style="italic" font-family="Liberation Sans, sans-serif" textLength="41" lengthAdjust="spacing" stroke-width="1.1">130</text>
<text id="L61" transform="translate(275.8,1892.4) rotate(-90) scale(1,1)" font-size="18.9" font-style="italic" font-family="Liberation Sans, sans-serif" textLength="32.6" lengthAdjust="spacing" stroke-width="0.9"><tspan font-size="120%">p</tspan>F</text>
<text id="L62" transform="translate(183,80.1)" font-size="44.2" font-weight="bold" font-family="Liberation Serif, serif" textLength="105" lengthAdjust="spacingAndGlyphs" stroke-width="1.3">DTW</text>
<text id="L63" transform="translate(309,80.6)" font-size="67.2" font-weight="bold" font-family="Liberation Serif, serif" textLength="85" lengthAdjust="spacingAndGlyphs" stroke-width="1.3">127</text>
<text id="L64" transform="translate(411,79.1)" font-size="66.3" font-weight="bold" font-family="Liberation Serif, serif" textLength="70" lengthAdjust="spacingAndGlyphs" stroke-width="1.3">W</text>
<text id="L65" transform="translate(502.2,80.3)" font-size="63.9" font-weight="bold" font-family="Liberation Serif, serif" textLength="108.2" lengthAdjust="spacingAndGlyphs" stroke-width="1.3">und</text>
<text id="L66" transform="translate(629.4,80.1)" font-size="66.3" font-weight="bold" font-family="Liberation Serif, serif" textLength="88.6" lengthAdjust="spacingAndGlyphs" stroke-width="1.3">128</text>
<text id="L67" transform="translate(733,79.1)" font-size="66.3" font-weight="bold" font-family="Liberation Serif, serif" textLength="70" lengthAdjust="spacingAndGlyphs" stroke-width="1.3">W</text>

</g>
</svg>
</body></html>
